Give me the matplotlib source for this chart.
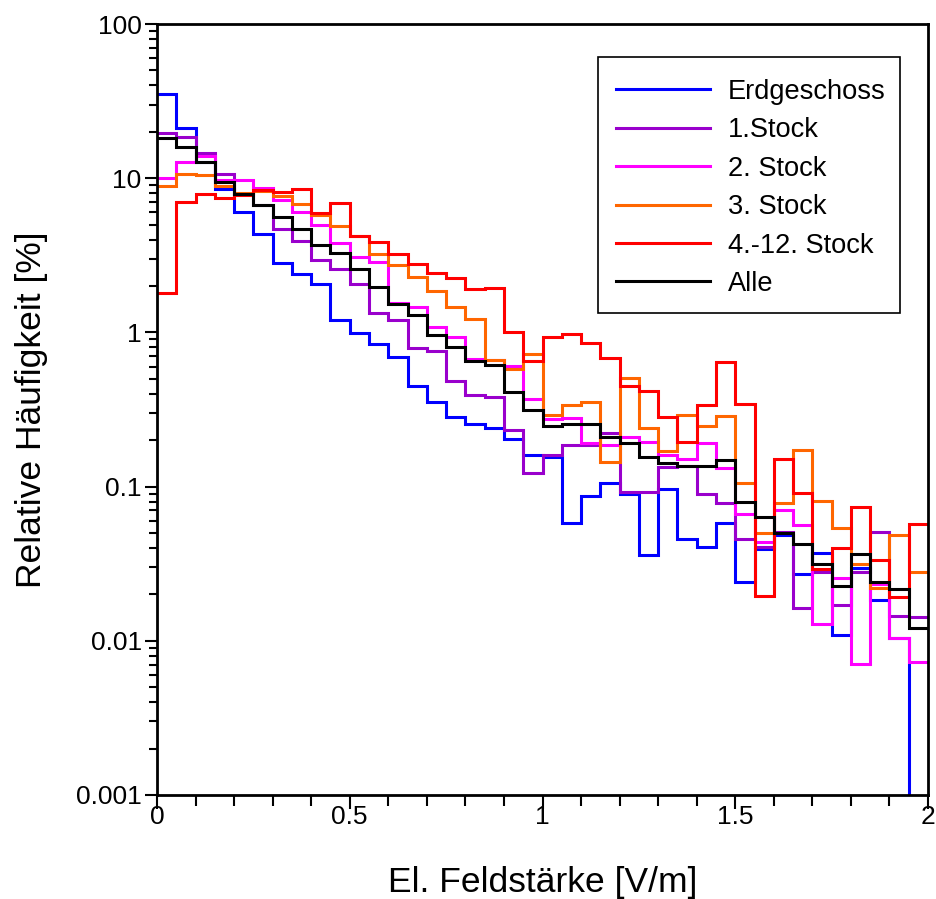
import numpy as np
import matplotlib
matplotlib.use("Agg")
import matplotlib.pyplot as plt
from matplotlib.patches import Rectangle
from matplotlib.ticker import FixedLocator, NullFormatter, LogLocator

# ---- data (relative frequency in %, bins of 0.05 V/m from 0 to 2 V/m) ----
bin_width = 0.05
n_bins = 40

erdgeschoss = [35.0, 21.3, 12.8, 8.47, 6.01, 4.35, 2.83, 2.39, 2.06, 1.20,
               0.986, 0.84, 0.69, 0.449, 0.356, 0.281, 0.255, 0.239, 0.203, 0.16,
               0.156, 0.058, 0.0869, 0.105, 0.0895, 0.036, 0.096, 0.0457, 0.0407, 0.0578,
               0.0239, 0.0394, 0.0485, 0.027, 0.0369, 0.0109, 0.0295, 0.0184, 0.0104, 0.0]

stock1 = [19.7, 18.4, 14.6, 10.6, 7.9, 6.7, 4.71, 3.94, 2.95, 2.58,
          2.06, 1.33, 1.20, 0.79, 0.76, 0.486, 0.393, 0.38, 0.233, 0.122,
          0.16, 0.186, 0.186, 0.222, 0.0927, 0.0927, 0.135, 0.136, 0.0895, 0.078,
          0.0455, 0.0404, 0.051, 0.0162, 0.0278, 0.0171, 0.0281, 0.0505, 0.0144, 0.0143]

stock2 = [10.1, 12.7, 13.9, 9.8, 9.8, 8.6, 7.22, 6.04, 5.0, 3.82,
          3.07, 2.87, 1.54, 1.46, 1.08, 0.937, 0.676, 0.66, 0.605, 0.368,
          0.274, 0.277, 0.191, 0.186, 0.209, 0.195, 0.16, 0.150, 0.191, 0.133,
          0.0664, 0.044, 0.0705, 0.0564, 0.0128, 0.0254, 0.00703, 0.0233, 0.0105, 0.00724]

stock3 = [8.95, 10.7, 10.5, 8.9, 7.97, 8.2, 7.7, 6.8, 5.74, 4.9,
          4.22, 3.21, 2.74, 2.28, 1.85, 1.47, 1.23, 0.66, 0.58, 0.72,
          0.29, 0.338, 0.356, 0.145, 0.509, 0.239, 0.169, 0.29, 0.247, 0.287,
          0.105, 0.0498, 0.078, 0.173, 0.0807, 0.0536, 0.0313, 0.0221, 0.0485, 0.0278]

stock4_12 = [1.81, 6.97, 7.86, 7.41, 7.78, 8.38, 8.18, 8.47, 5.92, 6.88,
             4.22, 3.84, 3.21, 2.78, 2.42, 2.24, 1.90, 1.95, 1.0, 0.65,
             0.94, 0.97, 0.857, 0.68, 0.449, 0.417, 0.284, 0.194, 0.338, 0.646,
             0.345, 0.0195, 0.152, 0.0904, 0.0291, 0.0402, 0.0741, 0.0334, 0.0191, 0.0572]

alle = [18.1, 15.9, 12.8, 9.5, 7.9, 6.7, 5.57, 4.69, 3.69, 3.29,
        2.58, 1.98, 1.52, 1.30, 0.96, 0.80, 0.65, 0.615, 0.413, 0.314,
        0.248, 0.253, 0.253, 0.211, 0.193, 0.155, 0.143, 0.136, 0.136, 0.149,
        0.080, 0.0633, 0.0498, 0.0425, 0.0313, 0.0226, 0.0364, 0.0242, 0.0217, 0.0121]

labels = ["Erdgeschoss", "1.Stock", "2. Stock", "3. Stock", "4.-12. Stock", "Alle"]
colors = ["#0000FF", "#9900CC", "#FF00FF", "#FF6600", "#FF0000", "#000000"]

x_ticks = [0, 0.5, 1, 1.5, 2]
x_tick_labels = ["0", "0.5", "1", "1.5", "2"]
y_ticks = [0.001, 0.01, 0.1, 1, 10, 100]
y_tick_labels = ["0.001", "0.01", "0.1", "1", "10", "100"]

# ---- figure ----
plt.rcParams["font.family"] = ["Liberation Sans", "DejaVu Sans"]
W, H = 937, 899
fig = plt.figure(figsize=(W / 100, H / 100), dpi=100)
ax_l, ax_r, ax_t, ax_b = 157, 928, 24, 795
ax = fig.add_axes([ax_l / W, 1 - ax_b / H, (ax_r - ax_l) / W, (ax_b - ax_t) / H])

def px2ax(px, py):
    return (px - ax_l) / (ax_r - ax_l), (ax_b - py) / (ax_b - ax_t)

edges = np.arange(n_bins + 1) * bin_width
series = [erdgeschoss, stock1, stock2, stock3, stock4_12, alle]
for i, (vals, lab, col) in enumerate(zip(series, labels, colors)):
    ax.stairs(vals, edges, baseline=None, color=col, lw=2.2, label=lab, zorder=2 + i)

ax.set_yscale("log", nonpositive="clip")
ax.set_xlim(0, 2)
ax.set_ylim(0.001, 100)

ax.set_xticks(x_ticks)
ax.set_xticklabels(x_tick_labels)
ax.xaxis.set_minor_locator(FixedLocator(np.arange(0, 2.01, 0.1)))
ax.set_yticks(y_ticks)
ax.set_yticklabels(y_tick_labels)
ax.yaxis.set_minor_locator(LogLocator(base=10, subs=np.arange(2, 10)))
ax.yaxis.set_minor_formatter(NullFormatter())

ax.tick_params(which="both", direction="out", top=False, right=False,
               labelsize=19, width=1.5, color="black")
ax.tick_params(axis="x", which="major", length=10, pad=-3)
ax.tick_params(axis="x", which="minor", length=8)
ax.tick_params(axis="y", which="major", length=9, pad=2)
ax.tick_params(axis="y", which="minor", length=6)

for sp in ax.spines.values():
    sp.set_linewidth(2.0)
    sp.set_color("black")
    sp.set_zorder(10)

ax.set_xlabel("El. Feldstärke [V/m]", fontsize=25.5, labelpad=27)
ax.set_ylabel("Relative Häufigkeit [%]", fontsize=25.5, labelpad=20)

# legend entries without frame, plus a plain rectangular frame
leg = ax.legend(loc="upper left", bbox_to_anchor=px2ax(616, 79),
                borderaxespad=0, borderpad=0, fontsize=19.6, frameon=False,
                handlelength=3.45, handletextpad=0.65, labelspacing=0.455)
leg.set_zorder(20)
x0, y0 = px2ax(598, 313)
x1, y1 = px2ax(900, 57)
ax.add_patch(Rectangle((x0, y0), x1 - x0, y1 - y0, transform=ax.transAxes,
                       facecolor="white", edgecolor="black", lw=1.2, zorder=19))

fig.savefig("out.png", dpi=100, facecolor="white")
